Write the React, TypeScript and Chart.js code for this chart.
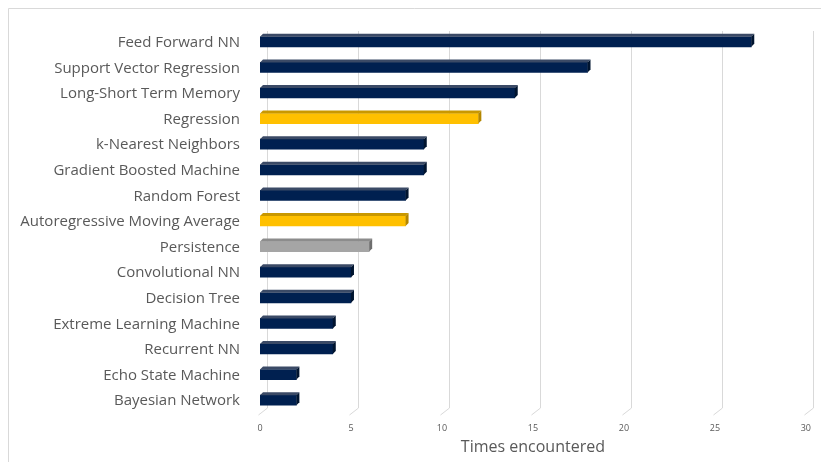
import React, { useEffect, useRef } from "react";
import { Chart, registerables } from "chart.js";

Chart.register(...registerables);

const categories = [
  "Feed Forward NN",
  "Support Vector Regression",
  "Long-Short Term Memory",
  "Regression",
  "k-Nearest Neighbors",
  "Gradient Boosted Machine",
  "Random Forest",
  "Autoregressive Moving Average",
  "Persistence",
  "Convolutional NN",
  "Decision Tree",
  "Extreme Learning Machine",
  "Recurrent NN",
  "Echo State Machine",
  "Bayesian Network",
];
const timesEncountered = [27, 18, 14, 12, 9, 9, 8, 8, 6, 5, 5, 4, 4, 2, 2];
const barGroups = ["ml", "ml", "ml", "stat", "ml", "ml", "ml", "stat", "base", "ml", "ml", "ml", "ml", "ml", "ml"];
const xTicks = [0, 5, 10, 15, 20, 25, 30];

const groupFront: Record<string, string> = { ml: "#002050", stat: "#FFC000", base: "#A5A5A5" };
const groupTop: Record<string, string> = { ml: "#3B4A66", stat: "#C99800", base: "#8C8C8C" };
const groupSide: Record<string, string> = { ml: "#00142F", stat: "#B38600", base: "#6E6E6E" };

const TEXT = "#595959";
const FONT = "'Open Sans', 'Noto Sans', sans-serif";

const framePlugin = {
  id: "frame3d",
  beforeDraw(chart: any) {
    const ctx = chart.ctx;
    ctx.save();
    ctx.fillStyle = "#ffffff";
    ctx.fillRect(0, 0, chart.width, chart.height);
    ctx.strokeStyle = "#d9d9d9";
    ctx.lineWidth = 1;
    ctx.beginPath();
    ctx.moveTo(8.5, chart.height);
    ctx.lineTo(8.5, 8.5);
    ctx.lineTo(chart.width, 8.5);
    ctx.stroke();
    ctx.restore();
  },
  beforeDatasetsDraw(chart: any) {
    const ctx = chart.ctx;
    const xs = chart.scales.x;
    ctx.save();
    ctx.strokeStyle = "#d9d9d9";
    ctx.lineWidth = 1;
    for (const v of xTicks) {
      const x = Math.round(xs.getPixelForValue(v)) + 0.5;
      ctx.beginPath();
      ctx.moveTo(x + 7, 31);
      ctx.lineTo(x + 7, 408);
      ctx.lineTo(x - 2, 415);
      ctx.stroke();
    }
    ctx.restore();
  },
  afterDatasetsDraw(chart: any) {
    const ctx = chart.ctx;
    const meta = chart.getDatasetMeta(0);
    const d = 3;
    ctx.save();
    meta.data.forEach((el: any, i: number) => {
      const p = el.getProps(["x", "y", "base", "height"], true);
      const top = p.y - p.height / 2;
      const bottom = p.y + p.height / 2;
      const x0 = p.base;
      const x1 = p.x;
      const g = barGroups[i];
      ctx.fillStyle = groupTop[g];
      ctx.beginPath();
      ctx.moveTo(x0, top);
      ctx.lineTo(x0 + d, top - d);
      ctx.lineTo(x1 + d, top - d);
      ctx.lineTo(x1, top);
      ctx.closePath();
      ctx.fill();
      ctx.fillStyle = groupSide[g];
      ctx.beginPath();
      ctx.moveTo(x1, top);
      ctx.lineTo(x1 + d, top - d);
      ctx.lineTo(x1 + d, bottom - d);
      ctx.lineTo(x1, bottom);
      ctx.closePath();
      ctx.fill();
    });
    ctx.restore();
  },
};

export default function App() {
  const ref = useRef<HTMLCanvasElement>(null);
  useEffect(() => {
    if (!ref.current) return;
    const chart = new Chart(ref.current, {
      type: "bar",
      data: {
        labels: categories,
        datasets: [
          {
            data: timesEncountered,
            backgroundColor: barGroups.map((g) => groupFront[g]),
            borderWidth: 0,
            barThickness: 10,
          },
        ],
      },
      options: {
        indexAxis: "y",
        animation: false,
        responsive: false,
        maintainAspectRatio: false,
        layout: { padding: { top: 26, right: 15, bottom: 0, left: 0 } },
        plugins: { legend: { display: false }, tooltip: { enabled: false } },
        scales: {
          y: {
            grid: { display: false, drawTicks: false },
            border: { display: false },
            ticks: {
              color: TEXT,
              font: { family: FONT, size: 15 },
              padding: 20,
              labelOffset: 1,
            },
            afterFit(scale: any) {
              scale.width = 260;
            },
          },
          x: {
            min: 0,
            max: 30,
            grid: { display: false, drawTicks: false },
            border: { display: false },
            ticks: {
              stepSize: 5,
              color: TEXT,
              font: { family: FONT, size: 9 },
              padding: 10,
              maxRotation: 0,
            },
            title: {
              display: true,
              text: "Times encountered",
              color: TEXT,
              font: { family: FONT, size: 16 },
              padding: { top: 2, bottom: 5 },
            },
            afterFit(scale: any) {
              scale.height = 49;
            },
          },
        },
      },
      plugins: [framePlugin],
    });
    return () => chart.destroy();
  }, []);
  return (
    <canvas
      ref={ref}
      width={821}
      height={462}
      style={{ position: "fixed", left: 0, top: 0, width: 821, height: 462, display: "block" }}
    />
  );
}
